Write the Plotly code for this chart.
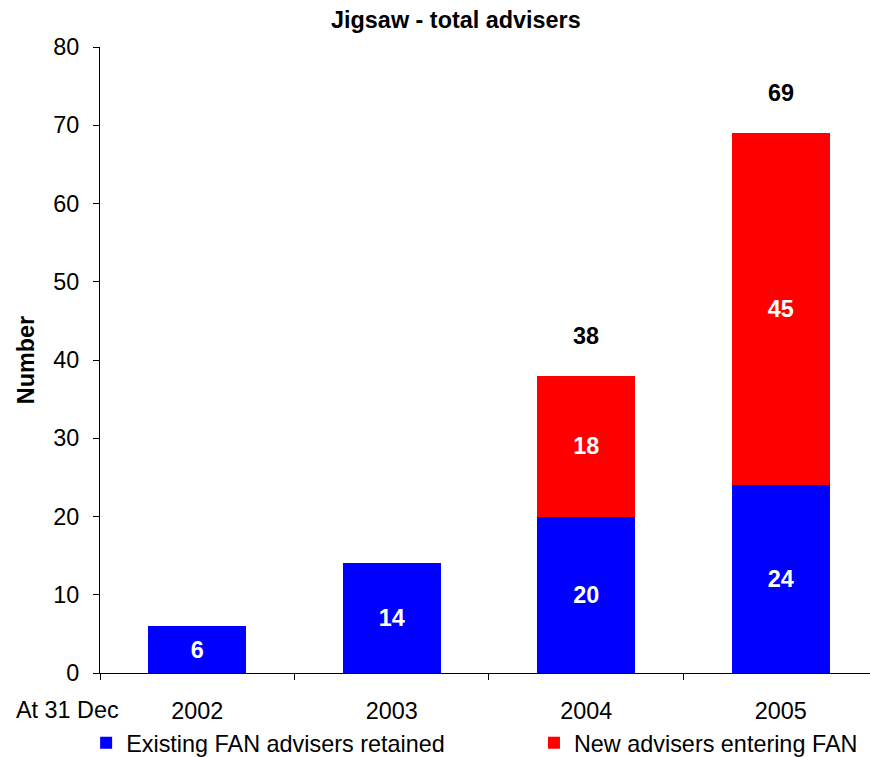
import plotly.graph_objects as go

years = ["2002", "2003", "2004", "2005"]
existing = [6, 14, 20, 24]
new = [None, None, 18, 45]
totals = [None, None, 38, 69]
y_ticks = [0, 10, 20, 30, 40, 50, 60, 70, 80]

FONT = "Arial, Liberation Sans, sans-serif"
FS = 23.4

fig = go.Figure()
fig.add_trace(go.Bar(
    x=years, y=existing, name="Existing FAN advisers retained",
    marker=dict(color="#0000FF", line=dict(width=0)),
    text=existing, texttemplate="%{text}", textposition="inside",
    insidetextanchor="middle",
    textfont=dict(color="white", size=FS, family=FONT, weight="bold"),
    width=0.505, legend="legend",
))
fig.add_trace(go.Bar(
    x=years, y=new, name="New advisers entering FAN",
    marker=dict(color="#FF0000", line=dict(width=0)),
    text=new, texttemplate="%{text}", textposition="inside",
    insidetextanchor="middle",
    textfont=dict(color="white", size=FS, family=FONT, weight="bold"),
    width=0.505, legend="legend2",
))

for i, t in enumerate(totals):
    if t is not None:
        fig.add_annotation(x=i, y=t, xref="x", yref="y", text=f"<b>{t}</b>",
                           showarrow=False, yshift=40,
                           font=dict(size=FS, family=FONT, color="black"))

fig.add_annotation(xref="paper", yref="paper", x=0, y=0, xanchor="right",
                   yanchor="middle", xshift=21, yshift=-37, text="At 31 Dec",
                   showarrow=False, font=dict(size=FS, family=FONT, color="black"))

leg_common = dict(orientation="h", xanchor="left", yanchor="top",
                  xref="paper", yref="paper", font=dict(size=FS, family=FONT),
                  bgcolor="rgba(0,0,0,0)")

fig.update_layout(
    width=870, height=757,
    margin=dict(l=100, r=0, t=47, b=84, autoexpand=False),
    paper_bgcolor="white", plot_bgcolor="white",
    barmode="stack",
    font=dict(family=FONT, color="black", size=FS),
    title=dict(text="<b>Jigsaw - total advisers</b>", x=0.524, xanchor="center",
               y=0.974, yanchor="middle", font=dict(size=FS, family=FONT)),
    showlegend=True,
    legend=dict(x=-0.018, y=-0.0767, **leg_common),
    legend2=dict(x=0.5636, y=-0.0767, **leg_common),
    xaxis=dict(type="category", range=[-0.5, 3.459], showline=True,
               linecolor="black", linewidth=1,
               ticks="outside", tickson="boundaries", ticklen=6, tickcolor="black",
               ticklabelstandoff=17,
               showgrid=False, tickfont=dict(size=FS), zeroline=False),
    yaxis=dict(range=[0, 80], tickvals=y_ticks, showline=True, linecolor="black",
               linewidth=1, ticks="outside", ticklen=6, tickcolor="black",
               ticklabelstandoff=9,
               showgrid=False, zeroline=False, tickfont=dict(size=FS),
               title=dict(text="<b>Number</b>", font=dict(size=FS), standoff=12)),
)

fig.write_html("out.html")
